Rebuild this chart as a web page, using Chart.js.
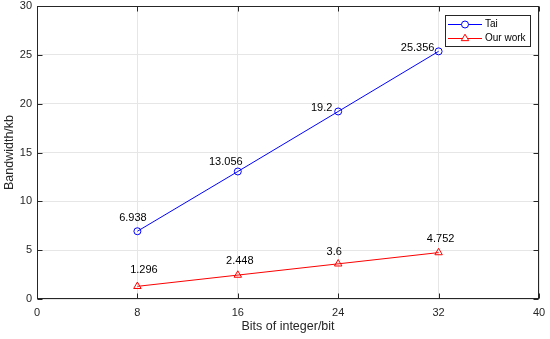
<!DOCTYPE html>
<html>
<head>
<meta charset="utf-8">
<script src="https://cdn.jsdelivr.net/npm/chart.js@4/dist/chart.umd.min.js"></script>
<style>
html,body{margin:0;padding:0;background:#fff;}
#wrap{width:550px;height:339px;position:relative;}
</style>
</head>
<body>
<div id="wrap"><canvas id="c" width="550" height="339"></canvas></div>
<script>
const bits = [8, 16, 24, 32];
const taiValues = [6.938, 13.056, 19.2, 25.356];
const ourValues = [1.296, 2.448, 3.6, 4.752];
const taiLabels = ['6.938', '13.056', '19.2', '25.356'];
const ourLabels = ['1.296', '2.448', '3.6', '4.752'];
const seriesNames = ['Tai', 'Our work'];
const xTitle = 'Bits of integer/bit';
const yTitle = 'Bandwidth/kb';

const FONT = "'Liberation Sans', Arial, Helvetica, sans-serif";
const AXC = '#262626';

// pixel offsets of value labels relative to their points
const labelOffsets = [
  [[-4.5,-13],[-12,-9.5],[-16.5,-4],[-21,-3.5]],
  [[6.5,-16],[2,-14],[-4,-12],[2,-13.5]]
];

const boxPlugin = {
  id: 'boxPlugin',
  afterDraw(chart) {
    const ctx = chart.ctx;
    const a = chart.chartArea;
    const xs = chart.scales.x, ys = chart.scales.y;
    ctx.save();
    // value labels
    ctx.font = '11px ' + FONT;
    ctx.fillStyle = '#000';
    ctx.textAlign = 'center';
    ctx.textBaseline = 'middle';
    [ [taiValues, taiLabels], [ourValues, ourLabels] ].forEach((s, si) => {
      s[0].forEach((v, i) => {
        const px = xs.getPixelForValue(bits[i]);
        const py = ys.getPixelForValue(v);
        const o = labelOffsets[si][i];
        ctx.fillText(s[1][i], px + o[0], py + o[1]);
      });
    });
    // box
    ctx.strokeStyle = AXC;
    ctx.lineWidth = 1;
    const L = Math.round(a.left) + 0.5, R = Math.round(a.right) - 0.5;
    const T = Math.round(a.top) + 0.5, B = Math.round(a.bottom) - 0.5;
    ctx.strokeRect(L, T, R - L, B - T);
    // inward ticks
    const tl = 5;
    ctx.beginPath();
    xs.ticks.forEach(t => {
      const x = Math.round(xs.getPixelForValue(t.value)) + 0.5;
      ctx.moveTo(x, B); ctx.lineTo(x, B - tl);
      ctx.moveTo(x, T); ctx.lineTo(x, T + tl);
    });
    ys.ticks.forEach(t => {
      const y = Math.round(ys.getPixelForValue(t.value)) + 0.5;
      ctx.moveTo(L, y); ctx.lineTo(L + tl, y);
      ctx.moveTo(R, y); ctx.lineTo(R - tl, y);
    });
    ctx.stroke();
    // legend
    const lx = 445.5, ly = 15.5, lw = 85, lh = 31;
    ctx.fillStyle = '#fff';
    ctx.fillRect(lx, ly, lw, lh);
    ctx.strokeStyle = AXC;
    ctx.strokeRect(lx, ly, lw, lh);
    const ds = chart.data.datasets;
    [24.5, 38.5].forEach((y, i) => {
      const d = ds[i];
      ctx.strokeStyle = d.borderColor;
      ctx.lineWidth = 1;
      ctx.beginPath();
      ctx.moveTo(448, y); ctx.lineTo(482, y);
      ctx.stroke();
      ctx.fillStyle = '#fff';
      ctx.strokeStyle = d.borderColor;
      Chart.helpers.drawPoint(ctx, {pointStyle: d.pointStyle, radius: d.pointRadius, rotation: 0, borderWidth: 1}, 465, y);
      ctx.fillStyle = '#000';
      ctx.textAlign = 'left';
      ctx.textBaseline = 'middle';
      ctx.font = '10px ' + FONT;
      ctx.fillText(seriesNames[i], 485, y);
    });
    ctx.restore();
  }
};

new Chart(document.getElementById('c'), {
  type: 'scatter',
  data: {
    datasets: [
      {
        label: seriesNames[0],
        data: bits.map((b, i) => ({x: b, y: taiValues[i]})),
        showLine: true,
        borderColor: '#0000ff',
        backgroundColor: 'rgba(0,0,0,0)',
        borderWidth: 1,
        pointStyle: 'circle',
        pointRadius: 3.5,
        pointBorderWidth: 1,
        pointBorderColor: '#0000ff',
        pointBackgroundColor: 'rgba(0,0,0,0)'
      },
      {
        label: seriesNames[1],
        data: bits.map((b, i) => ({x: b, y: ourValues[i]})),
        showLine: true,
        borderColor: '#ff0000',
        backgroundColor: 'rgba(0,0,0,0)',
        borderWidth: 1,
        pointStyle: 'triangle',
        pointRadius: 4.3,
        pointBorderWidth: 1,
        pointBorderColor: '#ff0000',
        pointBackgroundColor: 'rgba(0,0,0,0)'
      }
    ]
  },
  options: {
    responsive: false,
    animation: false,
    devicePixelRatio: 1,
    layout: {padding: {top: 6, right: 11, left: 0, bottom: 0}},
    plugins: {legend: {display: false}, tooltip: {enabled: false}},
    scales: {
      x: {
        type: 'linear', min: 0, max: 40,
        afterFit(s) { s.height = 40; s.paddingLeft = 0; s.paddingRight = 0; s.paddingTop = 0; s.paddingBottom = 0; },
        ticks: {stepSize: 8, color: AXC, font: {family: FONT, size: 11}, padding: 7},
        grid: {color: '#e6e6e6', lineWidth: 1, drawTicks: false},
        border: {display: false},
        title: {display: true, text: xTitle, color: AXC, font: {family: FONT, size: 12.5}, padding: {top: 0, bottom: 4.5}}
      },
      y: {
        type: 'linear', min: 0, max: 30,
        afterFit(s) { s.width = 37; s.paddingLeft = 0; s.paddingRight = 0; s.paddingTop = 0; s.paddingBottom = 0; },
        ticks: {stepSize: 5, color: AXC, font: {family: FONT, size: 11}, padding: 5},
        grid: {color: '#e6e6e6', lineWidth: 1, drawTicks: false},
        border: {display: false},
        title: {display: true, text: yTitle, color: AXC, font: {family: FONT, size: 12.5}, padding: {top: 2, bottom: 0}}
      }
    }
  },
  plugins: [boxPlugin]
});
</script>
</body>
</html>
